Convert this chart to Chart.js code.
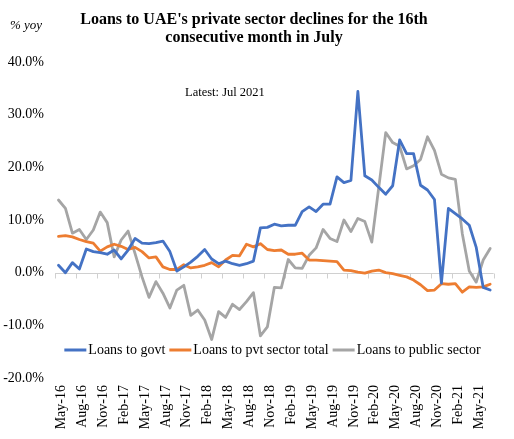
<!DOCTYPE html>
<html>
<head>
<meta charset="utf-8">
<title>UAE loans</title>
<script src="https://cdn.jsdelivr.net/npm/chart.js@4.4.1/dist/chart.umd.min.js"></script>
<style>
  html, body { margin: 0; padding: 0; background: #fff; }
  canvas { display: block; }
</style>
</head>
<body>
<canvas id="loansChart" width="514" height="439"></canvas>
<script>
// Month labels, May 2016 to Jul 2021
const months = [
  "May-16", "Jun-16", "Jul-16", "Aug-16", "Sep-16", "Oct-16", "Nov-16", "Dec-16",
  "Jan-17", "Feb-17", "Mar-17", "Apr-17", "May-17", "Jun-17", "Jul-17", "Aug-17", "Sep-17", "Oct-17", "Nov-17", "Dec-17",
  "Jan-18", "Feb-18", "Mar-18", "Apr-18", "May-18", "Jun-18", "Jul-18", "Aug-18", "Sep-18", "Oct-18", "Nov-18", "Dec-18",
  "Jan-19", "Feb-19", "Mar-19", "Apr-19", "May-19", "Jun-19", "Jul-19", "Aug-19", "Sep-19", "Oct-19", "Nov-19", "Dec-19",
  "Jan-20", "Feb-20", "Mar-20", "Apr-20", "May-20", "Jun-20", "Jul-20", "Aug-20", "Sep-20", "Oct-20", "Nov-20", "Dec-20",
  "Jan-21", "Feb-21", "Mar-21", "Apr-21", "May-21", "Jun-21", "Jul-21"
];

// % yoy growth
const loansGovt = [
  1.4, 0.0, 1.9, 0.7, 4.5, 4.0, 3.8, 3.5, 4.3, 2.6,
  4.3, 6.5, 5.6, 5.5, 5.7, 6.0, 4.0, 0.3, 1.1, 2.0,
  3.1, 4.4, 2.6, 1.7, 2.2, 1.7, 1.4, 1.7, 2.2, 8.5,
  8.6, 9.2, 8.9, 9.0, 9.0, 11.6, 12.5, 11.6, 13.0, 13.0,
  18.2, 17.1, 17.5, 34.4, 18.4, 17.6, 16.2, 14.9, 16.5, 25.2,
  22.6, 22.6, 16.6, 15.7, 13.9, -2.0, 12.2, 11.2, 10.2, 9.0,
  4.8, -2.8, -3.3
];
const loansPvtTotal = [
  6.9, 7.05, 6.8, 6.3, 5.9, 5.6, 4.1, 4.9, 5.4, 5.0,
  4.4, 4.8, 4.0, 2.8, 3.0, 1.1, 0.6, 0.6, 1.5, 0.9,
  1.1, 1.4, 1.9, 1.1, 2.4, 3.3, 3.2, 5.4, 4.9, 5.5,
  4.4, 4.2, 4.3, 3.5, 3.5, 3.7, 2.4, 2.4, 2.3, 2.2,
  2.1, 0.5, 0.4, 0.1, -0.1, 0.3, 0.5, 0.0, -0.2, -0.5,
  -0.8, -1.4, -2.3, -3.4, -3.3, -2.1, -2.2, -2.1, -3.7, -2.7,
  -2.8, -2.7, -2.2
];
const loansPublic = [
  13.8, 12.2, 7.5, 8.2, 6.3, 8.1, 11.5, 9.5, 3.0, 6.2,
  7.9, 3.6, -0.8, -4.7, -1.7, -3.9, -6.7, -3.3, -2.4, -8.1,
  -7.1, -9.0, -12.7, -7.4, -8.5, -6.0, -7.0, -5.5, -3.8, -12.0,
  -10.3, -2.8, -2.9, 2.5, 0.9, 0.8, 3.3, 4.7, 8.2, 6.5,
  5.9, 10.0, 7.8, 10.3, 9.7, 5.8, 16.2, 26.6, 24.7, 24.0,
  19.7, 20.3, 21.5, 25.8, 23.2, 18.7, 18.0, 17.7, 7.4, 0.3,
  -1.8, 2.4, 4.6
];

const yTicks = [-20, -10, 0, 10, 20, 30, 40];

const SERIF = "'Liberation Serif', 'Times New Roman', serif";

// zero line with tick marks every third month
const zeroAxis = {
  id: "zeroAxis",
  beforeDatasetsDraw(chart) {
    const { ctx, scales: { x, y } } = chart;
    const y0 = Math.round(y.getPixelForValue(0)) + 0.5;
    const half = (x.getPixelForValue(1) - x.getPixelForValue(0)) / 2;
    ctx.save();
    ctx.strokeStyle = "#d0d0d0";
    ctx.lineWidth = 1;
    ctx.beginPath();
    ctx.moveTo(chart.chartArea.left, y0);
    ctx.lineTo(chart.chartArea.right, y0);
    for (let i = 0; i <= months.length; i += 3) {
      const px = Math.round(x.getPixelForValue(i) - half) + 0.5;
      ctx.moveTo(px, y0);
      ctx.lineTo(px, y0 + 5);
    }
    ctx.stroke();
    ctx.restore();
  }
};

// title, unit note, "latest" note and legend
const annotations = {
  id: "annotations",
  afterDraw(chart) {
    const { ctx } = chart;
    ctx.save();
    ctx.fillStyle = "#000";
    ctx.textBaseline = "middle";

    ctx.textAlign = "center";
    ctx.font = "bold 16px " + SERIF;
    ctx.fillText("Loans to UAE's private sector declines for the 16th", 254, 20);
    ctx.fillText("consecutive month in July", 254, 37.5);

    ctx.textAlign = "left";
    ctx.font = "italic 13px " + SERIF;
    ctx.fillText("% yoy", 10, 26);

    ctx.font = "12.5px " + SERIF;
    ctx.fillText("Latest: Jul 2021", 185, 93);

    // legend
    ctx.font = "14px " + SERIF;
    const lineW = 22, gapAfterLine = 2, gapAfterText = 4;
    const items = chart.data.datasets.map(ds => ({
      label: ds.label, color: ds.borderColor, w: ctx.measureText(ds.label).width
    }));
    const total = items.reduce((s, it) => s + lineW + gapAfterLine + it.w, 0) + gapAfterText * (items.length - 1);
    let lx = 272.5 - total / 2;
    const ly = 350;
    items.forEach(it => {
      ctx.strokeStyle = it.color;
      ctx.lineWidth = 3;
      ctx.beginPath();
      ctx.moveTo(lx, ly);
      ctx.lineTo(lx + lineW, ly);
      ctx.stroke();
      lx += lineW + gapAfterLine;
      ctx.fillText(it.label, lx, ly);
      lx += it.w + gapAfterText;
    });
    ctx.restore();
  }
};

const ctx = document.getElementById("loansChart").getContext("2d");
new Chart(ctx, {
  type: "line",
  data: {
    labels: months,
    datasets: [
      { label: "Loans to govt", data: loansGovt, borderColor: "#4472c4" },
      { label: "Loans to pvt sector total", data: loansPvtTotal, borderColor: "#ed7d31" },
      { label: "Loans to public sector", data: loansPublic, borderColor: "#a5a5a5" }
    ]
  },
  options: {
    responsive: false,
    animation: false,
    devicePixelRatio: 1,
    layout: { padding: { left: 2, right: 5, top: 62, bottom: 5 } },
    elements: {
      line: { borderWidth: 2.8, tension: 0, borderCapStyle: "round", borderJoinStyle: "round" },
      point: { radius: 0, hoverRadius: 0 }
    },
    plugins: {
      legend: { display: false },
      title: { display: false },
      tooltip: { enabled: false }
    },
    scales: {
      x: {
        type: "category",
        offset: true,
        grid: { display: false, drawTicks: false },
        border: { display: false },
        ticks: {
          autoSkip: false,
          minRotation: 90,
          maxRotation: 90,
          padding: 7,
          labelOffset: 3,
          color: "#000",
          font: { family: SERIF, size: 14 },
          callback: (v, i) => (i % 3 === 0 ? months[i] : "")
        },
        afterFit: s => { s.height = 56; }
      },
      y: {
        min: -20,
        max: 40,
        afterBuildTicks: s => { s.ticks = yTicks.map(v => ({ value: v })); },
        grid: { display: false, drawTicks: false },
        border: { display: false },
        ticks: {
          padding: 11,
          color: "#000",
          font: { family: SERIF, size: 14 },
          callback: v => v.toFixed(1) + "%"
        },
        afterFit: s => { s.width = 53; }
      }
    }
  },
  plugins: [zeroAxis, annotations]
});
</script>
</body>
</html>
